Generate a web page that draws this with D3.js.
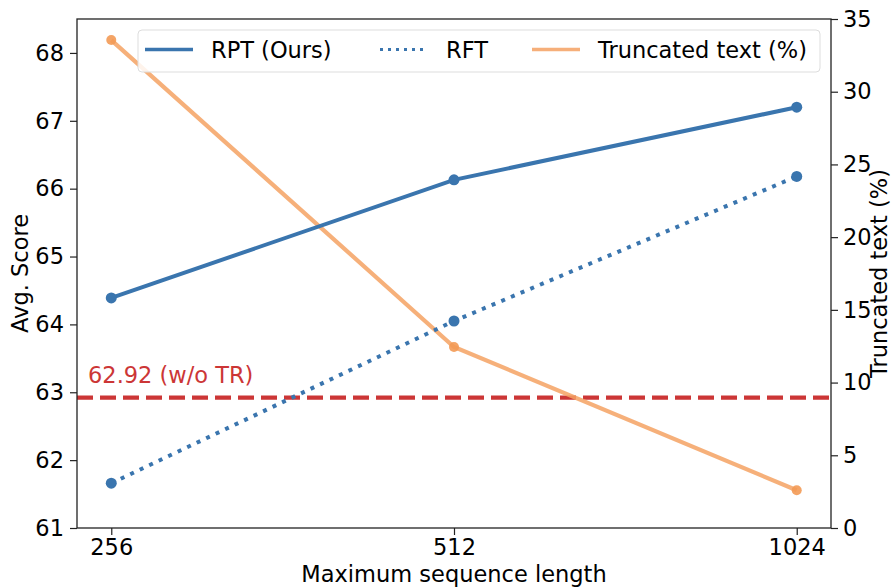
<!DOCTYPE html>
<head>
    <meta charset="utf-8">
    <title>RPT vs RFT</title>
    <script src="https://cdn.jsdelivr.net/npm/d3@7"></script>
</head>
<body style="margin:0;background:#fff">
<div id="container"></div>
<script type="text/javascript">
    // data
    const seqLengths = ["256", "512", "1024"];
    const rptScores = [64.39, 66.13, 67.2];
    const rftScores = [61.66, 64.05, 66.18];
    const truncated = [33.55, 12.45, 2.6];
    const baseline = 62.92;
    const leftTicks = [61, 62, 63, 64, 65, 66, 67, 68];
    const rightTicks = [0, 5, 10, 15, 20, 25, 30, 35];

    const W = 895, H = 588;
    const margin = {top: 19, right: 64, bottom: 60, left: 77};
    const width = W - margin.left - margin.right,
        height = H - margin.top - margin.bottom;

    const blue = "#3a75ae", orange = "#f5a263", red = "#cc3636";
    const font = "DejaVu Sans, sans-serif";
    const fs = "22.5px";

    const svg = d3.select("#container")
        .append("svg")
        .attr("width", W)
        .attr("height", H)
        .append("g")
        .attr("transform", `translate(${margin.left},${margin.top})`);

    const x = d3.scalePoint().domain(seqLengths).range([0, width]).padding(0.1);
    const y = d3.scaleLinear().domain([61, 68.5]).range([height, 0]);
    const y2 = d3.scaleLinear().domain([0, 35]).range([height, 0]);

    // baseline dashed line + label
    svg.append("line")
        .attr("x1", 0).attr("x2", width)
        .attr("y1", y(baseline)).attr("y2", y(baseline))
        .attr("stroke", red).attr("stroke-width", 4.2)
        .attr("stroke-dasharray", "16,7");
    svg.append("text")
        .attr("x", 11).attr("y", y(baseline) - 14.5)
        .attr("fill", red)
        .style("font-family", font).style("font-size", fs)
        .text(`${baseline} (w/o TR)`);

    const lineL = d3.line().x((d, i) => x(seqLengths[i])).y(d => y(d));
    const lineR = d3.line().x((d, i) => x(seqLengths[i])).y(d => y2(d));

    // truncated text (right axis)
    svg.append("path").datum(truncated)
        .attr("d", lineR).attr("fill", "none")
        .attr("stroke", orange).attr("stroke-width", 4.2).attr("opacity", 0.85);
    svg.selectAll("c.tr").data(truncated).join("circle")
        .attr("cx", (d, i) => x(seqLengths[i])).attr("cy", d => y2(d))
        .attr("r", 5).attr("fill", "#f39a55").attr("opacity", 0.9);

    // RFT dotted
    svg.append("path").datum(rftScores)
        .attr("d", lineL).attr("fill", "none")
        .attr("stroke", blue).attr("stroke-width", 4)
        .attr("stroke-dasharray", "4,6.5");
    svg.selectAll("c.rft").data(rftScores).join("circle")
        .attr("cx", (d, i) => x(seqLengths[i])).attr("cy", d => y(d))
        .attr("r", 5.5).attr("fill", blue);

    // RPT solid
    svg.append("path").datum(rptScores)
        .attr("d", lineL).attr("fill", "none")
        .attr("stroke", blue).attr("stroke-width", 4);
    svg.selectAll("c.rpt").data(rptScores).join("circle")
        .attr("cx", (d, i) => x(seqLengths[i])).attr("cy", d => y(d))
        .attr("r", 5.5).attr("fill", blue);

    // axes
    const styleAxis = g => {
        g.select(".domain").remove();
        g.selectAll(".tick line").attr("stroke", "#222").attr("stroke-width", 1.2);
        g.selectAll(".tick text").style("font-family", font).style("font-size", fs).attr("fill", "#000");
    };
    svg.append("g").attr("transform", `translate(0,${height})`)
        .call(d3.axisBottom(x).tickSize(7).tickPadding(4)).call(styleAxis);
    svg.append("g")
        .call(d3.axisLeft(y).tickValues(leftTicks).tickSize(7).tickPadding(6)).call(styleAxis);
    svg.append("g").attr("transform", `translate(${width},0)`)
        .call(d3.axisRight(y2).tickValues(rightTicks).tickSize(7).tickPadding(5)).call(styleAxis);

    // frame
    svg.append("rect").attr("width", width).attr("height", height)
        .attr("fill", "none").attr("stroke", "#222").attr("stroke-width", 1.3);

    // axis titles
    svg.append("text")
        .attr("x", width / 2).attr("y", height + 54)
        .attr("text-anchor", "middle")
        .style("font-family", font).style("font-size", fs)
        .text("Maximum sequence length");
    svg.append("text")
        .attr("transform", `translate(${-49},${height / 2}) rotate(-90)`)
        .attr("text-anchor", "middle")
        .style("font-family", font).style("font-size", fs)
        .text("Avg. Score");
    svg.append("text")
        .attr("transform", `translate(${width + 56},${y2(17.5)}) rotate(-90)`)
        .attr("text-anchor", "middle")
        .style("font-family", font).style("font-size", fs)
        .text("Truncated text (%)");

    // legend
    const legend = svg.append("g").attr("transform", `translate(${138 - margin.left},${30 - margin.top})`);
    legend.append("rect").attr("width", 682).attr("height", 42).attr("rx", 4)
        .attr("fill", "#fff").attr("fill-opacity", 0.85)
        .attr("stroke", "#ddd").attr("stroke-width", 1);
    const items = [
        {label: "RPT (Ours)", color: blue, dash: null, x0: 7, op: 1},
        {label: "RFT", color: blue, dash: "3,5", x0: 242, op: 1},
        {label: "Truncated text (%)", color: orange, dash: null, x0: 394, op: 0.85}
    ];
    items.forEach(it => {
        legend.append("line")
            .attr("x1", it.x0).attr("x2", it.x0 + 48)
            .attr("y1", 19.5).attr("y2", 19.5)
            .attr("stroke", it.color).attr("stroke-width", it.dash ? 3 : 3.5).attr("opacity", it.op)
            .attr("stroke-dasharray", it.dash);
        legend.append("text")
            .attr("x", it.x0 + 66).attr("y", 28)
            .style("font-family", font).style("font-size", fs)
            .text(it.label);
    });
</script>
</body>
